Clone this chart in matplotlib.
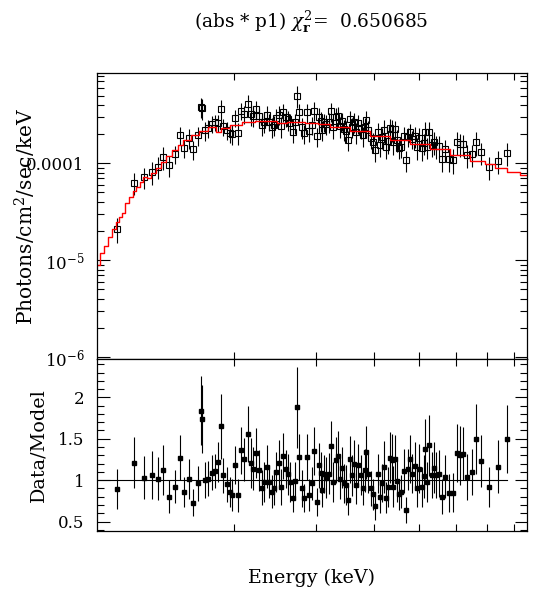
import numpy as np
import matplotlib
matplotlib.use("Agg")
import matplotlib.pyplot as plt
from matplotlib.ticker import FixedLocator, FixedFormatter, NullFormatter, MultipleLocator

plt.rcParams['font.family'] = ['DejaVu Serif']
plt.rcParams['mathtext.fontset'] = 'dejavuserif'

# bin centres (keV)
energy = [1.119, 1.221, 1.281, 1.331, 1.375, 1.409, 1.447, 1.491, 1.528, 1.564,
          1.603, 1.635, 1.676, 1.696, 1.709, 1.732, 1.761, 1.796, 1.823, 1.850,
          1.875, 1.897, 1.929, 1.958, 1.983, 2.013, 2.043, 2.074, 2.105, 2.147,
          2.172, 2.201, 2.234, 2.264, 2.297, 2.324, 2.355, 2.382, 2.414, 2.438,
          2.466, 2.495, 2.528, 2.553, 2.583, 2.609, 2.643, 2.675, 2.709, 2.736,
          2.764, 2.797, 2.829, 2.867, 2.904, 2.939, 2.972, 3.012, 3.042, 3.072,
          3.097, 3.128, 3.159, 3.197, 3.238, 3.270, 3.309, 3.342, 3.376, 3.409,
          3.443, 3.477, 3.512, 3.547, 3.582, 3.618, 3.654, 3.701, 3.745, 3.788,
          3.826, 3.851, 3.889, 3.936, 3.975, 4.026, 4.080, 4.127, 4.168, 4.210,
          4.252, 4.294, 4.330, 4.367, 4.395, 4.432, 4.476, 4.528, 4.573, 4.634,
          4.687, 4.741, 4.788, 4.822, 4.894, 4.942, 5.006, 5.066, 5.117, 5.157,
          5.209, 5.261, 5.323, 5.376, 5.438, 5.519, 5.610, 5.694, 5.808, 5.924,
          6.025, 6.115, 6.225, 6.350, 6.490, 6.639, 6.785, 7.060, 7.381, 7.741]

# unfolded data, units of 1e-6 photons/cm2/s/keV
flux = [21, 63, 72, 81, 92, 116, 96, 125, 194, 144, 183, 140, 195, 385, 370, 219, 232,
        257, 265, 262, 365, 240, 221, 205, 200, 294, 207, 349, 325, 413, 323, 307, 361,
        306, 251, 270, 319, 270, 237, 251, 297, 318, 242, 340, 299, 284, 260, 210, 264,
        500, 339, 238, 205, 336, 214, 250, 350, 190, 300, 275, 221, 267, 256, 266, 345,
        238, 300, 310, 244, 272, 225, 218, 175, 285, 239, 268, 208, 258, 229, 194, 236,
        280, 223, 183, 167, 137, 211, 154, 185, 219, 147, 170, 233, 225, 166, 225, 175,
        145, 149, 190, 108, 189, 209, 178, 190, 146, 181, 144, 162, 211, 148, 212, 156,
        167, 152, 152, 110, 140, 111, 108, 166, 159, 157, 121, 124, 164, 130, 91, 106, 128]
flux_err = [6, 16, 18, 22, 23, 31, 24, 27, 41, 30, 43, 31, 43, 88, 87, 48, 48, 50, 50,
            52, 86, 47, 49, 43, 46, 57, 51, 72, 68, 90, 80, 70, 81, 68, 58, 66, 72, 55,
            55, 58, 65, 71, 58, 74, 61, 66, 64, 48, 61, 130, 74, 58, 45, 73, 50, 52, 75,
            44, 69, 63, 50, 57, 62, 62, 76, 58, 68, 72, 60, 59, 56, 56, 41, 64, 56, 63,
            51, 57, 52, 45, 55, 67, 50, 43, 38, 34, 47, 38, 44, 58, 35, 44, 57, 58, 45,
            50, 44, 33, 35, 46, 27, 42, 48, 39, 47, 37, 48, 38, 40, 55, 36, 55, 41, 45,
            40, 39, 29, 35, 30, 31, 44, 44, 38, 32, 32, 46, 33, 24, 29, 35]

ratio = [0.89, 1.21, 1.03, 1.06, 1.02, 1.12, 0.80, 0.92, 1.27, 0.86,
         1.01, 0.73, 0.96, 1.84, 1.74, 1.00, 1.02, 1.09, 1.11, 1.22,
         1.65, 1.06, 0.95, 0.86, 0.82, 1.18, 0.82, 1.36, 1.25, 1.56,
         1.21, 1.14, 1.33, 1.12, 0.91, 0.98, 1.16, 0.98, 0.86, 0.91,
         1.10, 1.21, 0.92, 1.29, 1.13, 1.07, 0.98, 0.79, 0.99, 1.88,
         1.28, 0.90, 0.78, 1.28, 0.82, 0.96, 1.35, 0.74, 1.18, 1.09,
         0.88, 1.07, 1.03, 1.08, 1.41, 0.98, 1.24, 1.29, 1.02, 1.15,
         0.96, 0.94, 0.76, 1.25, 1.06, 1.20, 0.94, 1.18, 1.06, 0.91,
         1.12, 1.34, 1.08, 0.90, 0.83, 0.69, 1.08, 0.80, 0.97, 1.16,
         0.79, 0.92, 1.27, 1.24, 0.92, 1.26, 0.99, 0.83, 0.86, 1.11,
         0.64, 1.13, 1.26, 1.08, 1.17, 0.91, 1.14, 0.92, 1.05, 1.38,
         0.98, 1.42, 1.06, 1.15, 1.06, 1.08, 0.80, 1.04, 0.85, 0.85,
         1.33, 1.30, 1.32, 1.04, 1.10, 1.50, 1.23, 0.92, 1.16, 1.50]

ratio_err = [0.24, 0.31, 0.26, 0.29, 0.26, 0.30, 0.20, 0.20, 0.27, 0.18,
             0.24, 0.16, 0.21, 0.42, 0.41, 0.22, 0.21, 0.21, 0.21, 0.24,
             0.39, 0.21, 0.21, 0.18, 0.19, 0.23, 0.20, 0.28, 0.26, 0.34,
             0.30, 0.26, 0.30, 0.25, 0.21, 0.24, 0.26, 0.20, 0.20, 0.21,
             0.24, 0.27, 0.22, 0.28, 0.23, 0.25, 0.24, 0.18, 0.23, 0.49,
             0.28, 0.22, 0.17, 0.28, 0.19, 0.20, 0.29, 0.17, 0.27, 0.25,
             0.20, 0.23, 0.25, 0.25, 0.31, 0.24, 0.28, 0.30, 0.25, 0.25,
             0.24, 0.24, 0.18, 0.28, 0.25, 0.28, 0.23, 0.26, 0.24, 0.21,
             0.26, 0.32, 0.24, 0.21, 0.19, 0.17, 0.24, 0.20, 0.23, 0.31,
             0.19, 0.24, 0.31, 0.32, 0.25, 0.28, 0.25, 0.19, 0.20, 0.27,
             0.16, 0.25, 0.29, 0.24, 0.29, 0.23, 0.30, 0.24, 0.26, 0.36,
             0.24, 0.37, 0.28, 0.31, 0.28, 0.28, 0.21, 0.26, 0.23, 0.24,
             0.35, 0.36, 0.32, 0.28, 0.28, 0.42, 0.31, 0.24, 0.32, 0.41]

# model (units of 1e-4 photons/cm2/s/keV)
model_e = [1.018, 1.039, 1.060, 1.082, 1.106, 1.124, 1.141, 1.156, 1.176, 1.201,
           1.221, 1.241, 1.266, 1.287, 1.308, 1.341, 1.375, 1.409, 1.445, 1.493,
           1.531, 1.582, 1.649, 1.718, 1.791, 1.827, 1.836, 1.913, 2.010, 2.147,
           2.294, 2.450, 2.491, 2.705, 2.987, 3.062, 3.381, 3.732, 4.121, 4.550,
           5.024, 5.547, 6.124, 6.762, 7.105, 7.466, 7.974, 8.521]
model_f = [0.0891, 0.1177, 0.1400, 0.1722, 0.2082, 0.2495, 0.2810, 0.3046, 0.3919, 0.4520,
           0.5213, 0.5733, 0.6457, 0.7272, 0.7000, 0.7884, 0.9007, 1.0388, 1.1895, 1.3719,
           1.5451, 1.7401, 1.9598, 2.1553, 2.3535, 2.3873, 2.1197, 2.2982, 2.4857, 2.6505,
           2.7533, 2.7533, 2.6255, 2.6695, 2.5883, 2.5275, 2.3873, 2.1707, 1.9274, 1.7401,
           1.5823, 1.3949, 1.2181, 1.0638, 0.9765, 0.9007, 0.8190, 0.7572]

chi2r = 0.650685

energy = np.array(energy)
flux = np.array(flux) * 1e-6
flux_err = np.array(flux_err) * 1e-6
model_f = np.array(model_f) * 1e-4

xmin, xmax = 1.015, 8.53

fig = plt.figure(figsize=(5.37, 5.98), dpi=100)
W, H = 537.0, 598.0
ax1 = fig.add_axes([97 / W, 1 - 359.3 / H, 430 / W, 286.8 / H])
ax2 = fig.add_axes([97 / W, 1 - 531 / H, 430 / W, 171.7 / H])

# top: unfolded spectrum + model
ax1.errorbar(energy, flux, yerr=flux_err, fmt='none', ecolor='k', elinewidth=0.8)
ax1.plot(energy, flux, 's', mfc='none', mec='k', ms=4.8, mew=0.8)
ax1.step(model_e, model_f, where='mid', color='red', lw=1.0)
ax1.set_xscale('log')
ax1.set_yscale('log')
ax1.set_xlim(xmin, xmax)
ax1.set_ylim(0.946e-6, 8.66e-4)
ax1.yaxis.set_major_locator(FixedLocator([1e-6, 1e-5, 1e-4]))
ax1.yaxis.set_major_formatter(FixedFormatter(['$10^{-6}$', '$10^{-5}$', '0.0001']))
minors = [k * 10.0 ** d for d in (-6, -5, -4) for k in range(2, 10)]
ax1.yaxis.set_minor_locator(FixedLocator(minors))
ax1.yaxis.set_minor_formatter(NullFormatter())

# bottom: data/model
ax2.errorbar(energy, ratio, yerr=ratio_err, fmt='s', color='k', ms=3.2,
             elinewidth=0.8, capsize=0)
ax2.plot([xmin, energy[-1]], [1, 1], color='k', lw=0.8)
ax2.set_xscale('log')
ax2.set_xlim(xmin, xmax)
ax2.set_ylim(0.386, 2.46)
ax2.yaxis.set_major_locator(FixedLocator([0.5, 1, 1.5, 2]))
ax2.yaxis.set_major_formatter(FixedFormatter(['0.5', '1', '1.5', '2']))
ax2.yaxis.set_minor_locator(MultipleLocator(0.1))

for ax in (ax1, ax2):
    ax.xaxis.set_major_locator(FixedLocator([2, 3, 4, 5, 6, 7, 8]))
    ax.xaxis.set_minor_locator(FixedLocator([]))
    ax.xaxis.set_major_formatter(NullFormatter())
    ax.xaxis.set_minor_formatter(NullFormatter())
    ax.tick_params(axis='x', which='major', direction='in', length=5, width=0.8,
                   top=True, bottom=True)
    ax.tick_params(axis='y', which='major', direction='in', length=9, width=0.8,
                   left=True, right=True, labelsize=12, pad=9)
    ax.tick_params(axis='y', which='minor', direction='in', length=4.8, width=0.8,
                   left=True, right=True)
    for s in ax.spines.values():
        s.set_linewidth(0.9)

fig.text(311 / W, 1 - 22 / H, r'(abs * p1) $\chi^2_{\mathbf{r}}$=  %g' % chi2r,
         ha='center', va='center', fontsize=13.3)
fig.text(311 / W, 1 - 578 / H, 'Energy (keV)', ha='center', va='center', fontsize=13.7)
fig.text(25 / W, 1 - 216 / H, 'Photons/cm$^2$/sec/keV', ha='center', va='center',
         rotation=90, fontsize=14.5)
fig.text(38.5 / W, 1 - 445 / H, 'Data/Model', ha='center', va='center',
         rotation=90, fontsize=13.8)

fig.savefig("out.png", dpi=100)
